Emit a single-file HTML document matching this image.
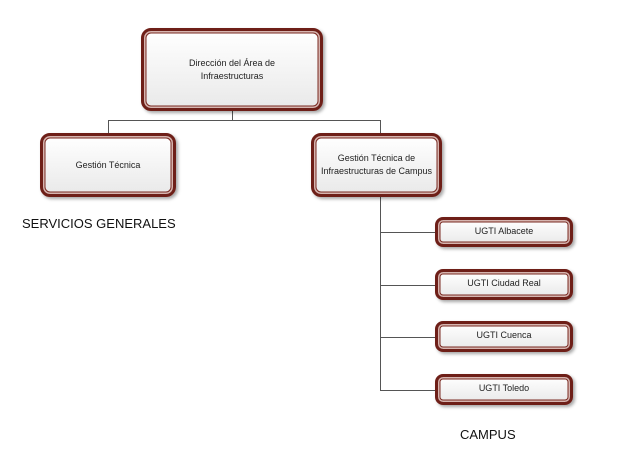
<!DOCTYPE html><html><head><style>
body{margin:0;width:620px;height:475px;background:#fff;position:relative;font-family:"Liberation Sans",sans-serif;overflow:hidden}
.b{position:absolute;box-sizing:border-box;border:3px solid #6e1f18;border-radius:10px;background:linear-gradient(#fff,#e9e9e9);box-shadow:inset 0 0 0 1.5px #d6b5b0,inset 0 0 0 2.5px #7a2a22,2px 2px 3px rgba(0,0,0,.35);display:flex;align-items:center;justify-content:center;text-align:center;font-size:9px;color:#222;line-height:1.4}
.s{border-radius:8px;align-items:flex-start;padding-top:5px}
.l{position:absolute;background:#555}
.t{position:absolute;font-size:13px;color:#111}
</style></head><body>
<div class="l" style="left:232px;top:110px;width:1px;height:11px"></div>
<div class="l" style="left:108px;top:120px;width:273px;height:1px"></div>
<div class="l" style="left:108px;top:120px;width:1px;height:14px"></div>
<div class="l" style="left:380px;top:120px;width:1px;height:14px"></div>
<div class="l" style="left:380px;top:197px;width:1px;height:193px"></div>
<div class="l" style="left:380px;top:232px;width:56px;height:1px"></div>
<div class="l" style="left:380px;top:285px;width:56px;height:1px"></div>
<div class="l" style="left:380px;top:337px;width:56px;height:1px"></div>
<div class="l" style="left:380px;top:390px;width:56px;height:1px"></div>
<div class="b" style="left:141px;top:28px;width:182px;height:83px">Dirección del Área de<br>Infraestructuras</div>
<div class="b" style="left:40px;top:133px;width:136px;height:64px">Gestión Técnica</div>
<div class="b" style="left:311px;top:133px;width:131px;height:64px">Gestión Técnica de<br>Infraestructuras de Campus</div>
<div class="b s" style="left:435px;top:217px;width:138px;height:30px">UGTI Albacete</div>
<div class="b s" style="left:435px;top:269px;width:138px;height:31px">UGTI Ciudad Real</div>
<div class="b s" style="left:435px;top:321px;width:138px;height:31px">UGTI Cuenca</div>
<div class="b s" style="left:435px;top:374px;width:138px;height:31px">UGTI Toledo</div>
<div class="t" style="left:22px;top:216px">SERVICIOS GENERALES</div>
<div class="t" style="left:460px;top:427px">CAMPUS</div>
</body></html>
